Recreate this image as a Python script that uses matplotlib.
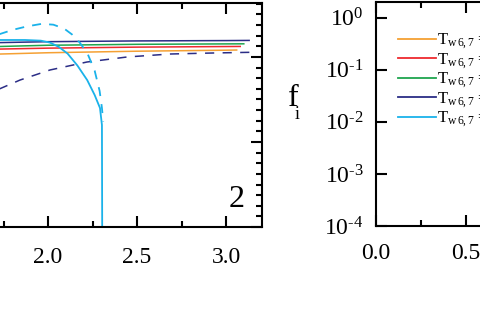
import math
import matplotlib
matplotlib.use("Agg")
import matplotlib.pyplot as plt
from matplotlib.ticker import MultipleLocator, LogLocator, NullLocator, FuncFormatter, FormatStrFormatter

plt.rcParams['font.family'] = ['Liberation Serif', 'DejaVu Serif']
plt.rcParams['mathtext.fontset'] = 'custom'
plt.rcParams['mathtext.rm'] = 'Liberation Serif'
plt.rcParams['mathtext.it'] = 'Liberation Serif:italic'
plt.rcParams['mathtext.default'] = 'regular'
plt.rcParams['axes.unicode_minus'] = False

# colours of the five wall temperatures
c_orange = '#F5A033'
c_red = '#EE2A2E'
c_green = '#1FA54E'
c_navy = '#2B2D86'
c_cyan = '#1AB2EA'

# left panel (panel 2) curves
x_orange = [1.70, 2.0, 2.5, 3.0, 3.06]
y_orange = [2.033, 2.050, 2.068, 2.080, 2.082]
x_red = [1.70, 2.0, 2.5, 3.0, 3.08]
y_red = [2.092, 2.104, 2.116, 2.123, 2.124]
x_green = [1.70, 2.0, 2.5, 3.0, 3.10]
y_green = [2.122, 2.138, 2.149, 2.154, 2.155]
x_navy = [1.70, 2.0, 2.5, 3.0, 3.13]
y_navy = [2.168, 2.180, 2.189, 2.193, 2.195]
x_navy_d = [1.70, 1.843, 2.011, 2.219, 2.444, 2.685, 2.927, 3.135]
y_navy_d = [1.60, 1.729, 1.847, 1.941, 2.000, 2.035, 2.047, 2.055]
x_cyan = [1.70, 1.871, 1.960, 2.010, 2.060, 2.110, 2.165, 2.220, 2.262, 2.292, 2.303, 2.305]
y_cyan = [2.20, 2.200, 2.192, 2.170, 2.120, 2.040, 1.900, 1.729, 1.553, 1.400, 1.200, -0.5]
x_cyan_d = [1.70, 1.803, 1.882, 1.965, 2.030, 2.090, 2.135, 2.178, 2.222, 2.262, 2.290, 2.303, 2.310]
y_cyan_d = [2.25, 2.320, 2.360, 2.390, 2.380, 2.335, 2.265, 2.170, 2.040, 1.840, 1.600, 1.400, 1.240]

legend_labels = [r"$T_{w\,6,7}$ = 1000 K", r"$T_{w\,6,7}$ = 1200 K",
                 r"$T_{w\,6,7}$ = 1400 K", r"$T_{w\,6,7}$ = 1600 K",
                 r"$T_{w\,6,7}$ = 1800 K"]
legend_colors = [c_orange, c_red, c_green, c_navy, c_cyan]

fig = plt.figure(figsize=(4.8, 3.2), dpi=100)

def style(ax, pad):
    for s in ax.spines.values():
        s.set_linewidth(1.5)
    ax.tick_params(which='both', direction='in', top=True, width=1.5, labelsize=17)
    ax.tick_params(axis='x', pad=pad)
    ax.tick_params(which='major', length=8)
    ax.tick_params(which='minor', length=4.5)

def pow10(v, pos):
    e = int(round(math.log10(v)))
    s = str(e).replace('-', r'\text{-}')
    return r'$10^{%s}$' % s

# ---- left panel
ax1 = fig.add_axes([-0.2708, 0.2906, 0.8158, 0.700])
lw = 1.1
ax1.plot(x_orange, y_orange, color=c_orange, lw=lw)
ax1.plot(x_red, y_red, color=c_red, lw=lw)
ax1.plot(x_green, y_green, color=c_green, lw=lw)
ax1.plot(x_navy, y_navy, color=c_navy, lw=lw)
ax1.plot(x_navy_d, y_navy_d, color=c_navy, lw=lw, dashes=(6, 5.5))
ax1.plot(x_cyan, y_cyan, color=c_cyan, lw=1.3)
ax1.plot(x_cyan_d, y_cyan_d, color=c_cyan, lw=1.3, dashes=(5, 4.5))
ax1.set_xlim(1.0, 3.2)
ax1.set_ylim(0, 2.635)
ax1.xaxis.set_major_locator(MultipleLocator(0.5))
ax1.xaxis.set_minor_locator(MultipleLocator(0.25))
ax1.yaxis.set_major_locator(MultipleLocator(1.0))
ax1.yaxis.set_minor_locator(MultipleLocator(0.125))
ax1.xaxis.set_major_formatter(FormatStrFormatter('%.1f'))
style(ax1, 14.5)
ax1.tick_params(axis='y', left=False, right=True, which='both', labelleft=False)
ax1.text(0.937, 0.125, '2', transform=ax1.transAxes, fontsize=23, ha='center', va='center')

# ---- right panel
ax2 = fig.add_axes([0.7833, 0.29375, 0.9375, 0.700])
ax2.set_yscale('log')
ax2.set_xlim(0, 2.5)
ax2.set_ylim(1e-4, 2.0)
ax2.xaxis.set_major_locator(MultipleLocator(0.5))
ax2.xaxis.set_minor_locator(MultipleLocator(0.25))
ax2.xaxis.set_major_formatter(FormatStrFormatter('%.1f'))
ax2.yaxis.set_major_locator(LogLocator(base=10, numticks=10))
ax2.yaxis.set_minor_locator(NullLocator())
ax2.yaxis.set_major_formatter(FuncFormatter(pow10))
style(ax2, 12.5)
ax2.tick_params(axis='y', pad=9)
for lab, col in zip(legend_labels, legend_colors):
    ax2.plot([], [], color=col, lw=1.3, label=lab)
ax2.legend(loc='upper left', bbox_to_anchor=(0.03, 0.905), frameon=False, fontsize=12,
           handlelength=2.3, handletextpad=0.08, labelspacing=-0.02, borderpad=0)
fig.text(0.611, 0.692, 'f', fontsize=23, ha='center', va='center')
fig.text(0.620, 0.643, 'i', fontsize=13, ha='center', va='center')

fig.savefig('out.png', dpi=100)
